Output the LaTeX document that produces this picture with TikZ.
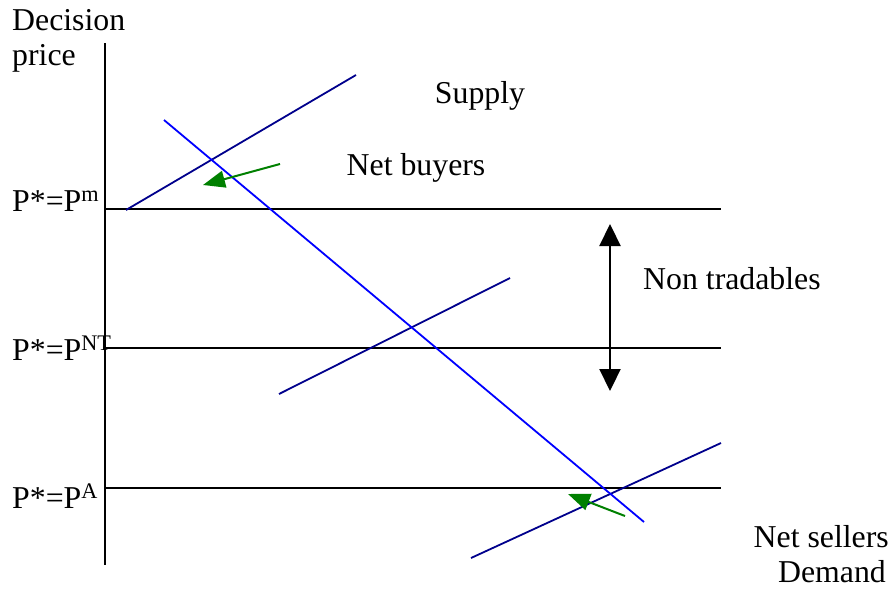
\documentclass[tikz,border=0pt]{standalone}
\usepackage{fontspec}
\setmainfont{Liberation Serif}
\usetikzlibrary{arrows.meta}
\begin{document}
\begin{tikzpicture}[x=1pt,y=-1pt,
  lbl/.style={font=\fontsize{31.8}{36}\selectfont, inner sep=0pt},
  axisline/.style={black, line width=2.2pt},
  supplyline/.style={draw={rgb,255:red,0;green,0;blue,140}, line width=1.8pt},
  demandline/.style={draw={rgb,255:red,0;green,0;blue,255}, line width=1.8pt},
  greenarrow/.style={draw={rgb,255:red,0;green,128;blue,0}, line width=2pt, -{Triangle[length=22pt,width=17pt]}, fill={rgb,255:red,0;green,128;blue,0}},
  dblarrow/.style={black, line width=2.2pt, {Triangle[length=22pt,width=21pt]}-{Triangle[length=22pt,width=21pt]}}]
\useasboundingbox (0,0) rectangle (891,592);
% axis and price levels
\coordinate (ax0) at (105,43);
\coordinate (ax1) at (105,565);
\draw[axisline] (ax0) -- (ax1);
\coordinate (hm0) at (105,209); \coordinate (hm1) at (721,209);
\coordinate (hn0) at (105,348); \coordinate (hn1) at (721,348);
\coordinate (ha0) at (105,488); \coordinate (ha1) at (721,488);
\draw[axisline] (hm0) -- (hm1);
\draw[axisline] (hn0) -- (hn1);
\draw[axisline] (ha0) -- (ha1);
% supply curves
\coordinate (s1a) at (126,210); \coordinate (s1b) at (356,75);
\coordinate (s2a) at (279,394); \coordinate (s2b) at (510,278);
\coordinate (s3a) at (471,558); \coordinate (s3b) at (721,443);
\draw[supplyline] (s1a) -- (s1b);
\draw[supplyline] (s2a) -- (s2b);
\draw[supplyline] (s3a) -- (s3b);
% demand curve
\coordinate (da) at (164,120); \coordinate (db) at (644,522);
\draw[demandline] (da) -- (db);
% green arrows
\coordinate (g1a) at (280,164); \coordinate (g1b) at (203,185);
\coordinate (g2a) at (625,516); \coordinate (g2b) at (568,494);
\draw[greenarrow] (g1a) -- (g1b);
\draw[greenarrow] (g2a) -- (g2b);
% double arrow
\coordinate (da0) at (610,224); \coordinate (da1) at (610,391);
\draw[dblarrow] (da0) -- (da1);
% labels
\node[lbl, anchor=west] (dec) at (12,20) {Decision};
\node[lbl, anchor=west] (pri) at (12,58) {price};
\node[lbl] (sup) at (480,96) {Supply};
\node[lbl] (nb) at (416,168) {Net buyers};
\node[lbl, anchor=west] (nt) at (643,279) {Non tradables};
\node[lbl, anchor=east] (ns) at (889,537) {Net sellers};
\node[lbl, anchor=east] (dem) at (886,572) {Demand};
\node[lbl, anchor=base west] (pm) at (12,211) {P*=P\textsuperscript{m}};
\node[lbl, anchor=base west] (pnt) at (12,360) {P*=P\textsuperscript{NT}};
\node[lbl, anchor=base west] (pa) at (12,508) {P*=P\textsuperscript{A}};
\end{tikzpicture}
\end{document}
